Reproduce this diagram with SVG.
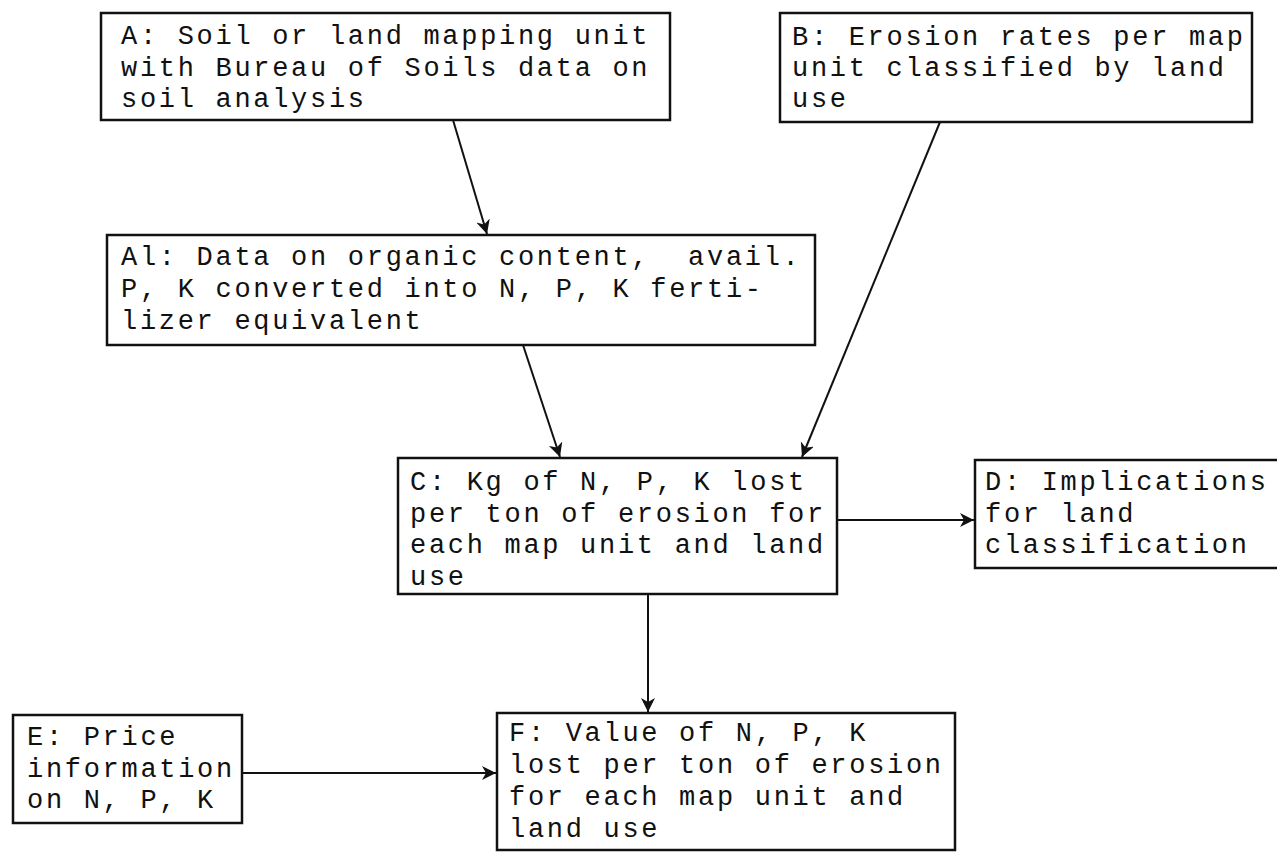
<svg xmlns="http://www.w3.org/2000/svg" width="1277" height="852" viewBox="0 0 1277 852">
<defs>
<style>
.box{fill:#fff;stroke:#111;stroke-width:2.5}
.t{font-family:"Liberation Mono","Courier New",monospace;font-size:27px;letter-spacing:2.7px;fill:#111;white-space:pre}
.c{fill:none;stroke:#111;stroke-width:2}
</style>
<marker id="ah" markerUnits="userSpaceOnUse" markerWidth="16" markerHeight="16" refX="14" refY="7" orient="auto">
<path d="M0,0 L14,7 L0,14 L4,7 z" fill="#111"/>
</marker>
</defs>
<rect width="1277" height="852" fill="#fff"/>
<g id="connectors">
<line class="c" x1="453" y1="120" x2="487" y2="234" marker-end="url(#ah)"/>
<line class="c" x1="523" y1="345" x2="560" y2="457" marker-end="url(#ah)"/>
<line class="c" x1="940" y1="122" x2="802" y2="457" marker-end="url(#ah)"/>
<line class="c" x1="837" y1="520" x2="974" y2="520" stroke-width="1.5" marker-end="url(#ah)"/>
<line class="c" x1="648" y1="594" x2="648" y2="712" stroke-width="1.5" marker-end="url(#ah)"/>
<line class="c" x1="242" y1="773" x2="496" y2="773" stroke-width="2.5" marker-end="url(#ah)"/>
</g>
<g id="A">
<rect class="box" x="101" y="13" width="569" height="107"/>
<text class="t" x="121" y="44">A: Soil or land mapping unit</text>
<text class="t" x="121" y="76">with Bureau of Soils data on</text>
<text class="t" x="121" y="107">soil analysis</text>
</g>
<g id="B">
<rect class="box" x="780" y="13" width="472" height="109"/>
<text class="t" x="792" y="45">B: Erosion rates per map</text>
<text class="t" x="792" y="76">unit classified by land</text>
<text class="t" x="792" y="107">use</text>
</g>
<g id="A1">
<rect class="box" x="107" y="235" width="708" height="110"/>
<text class="t" x="121" y="265">Al: Data on organic content,  avail.</text>
<text class="t" x="121" y="297">P, K converted into N, P, K ferti-</text>
<text class="t" x="121" y="329">lizer equivalent</text>
</g>
<g id="C">
<rect class="box" x="398" y="458" width="439" height="136"/>
<text class="t" x="410" y="490">C: Kg of N, P, K lost</text>
<text class="t" x="410" y="522">per ton of erosion for</text>
<text class="t" x="410" y="553">each map unit and land</text>
<text class="t" x="410" y="585">use</text>
</g>
<g id="D">
<rect class="box" x="975" y="460" width="320" height="108"/>
<text class="t" x="985" y="490">D: Implications</text>
<text class="t" x="985" y="522">for land</text>
<text class="t" x="985" y="553">classification</text>
</g>
<g id="E">
<rect class="box" x="13" y="715" width="229" height="108"/>
<text class="t" x="27" y="745">E: Price</text>
<text class="t" x="27" y="777">information</text>
<text class="t" x="27" y="808">on N, P, K</text>
</g>
<g id="F">
<rect class="box" x="497" y="713" width="458" height="137"/>
<text class="t" x="509" y="741">F: Value of N, P, K</text>
<text class="t" x="509" y="773">lost per ton of erosion</text>
<text class="t" x="509" y="805">for each map unit and</text>
<text class="t" x="509" y="837">land use</text>
</g>
</svg>
